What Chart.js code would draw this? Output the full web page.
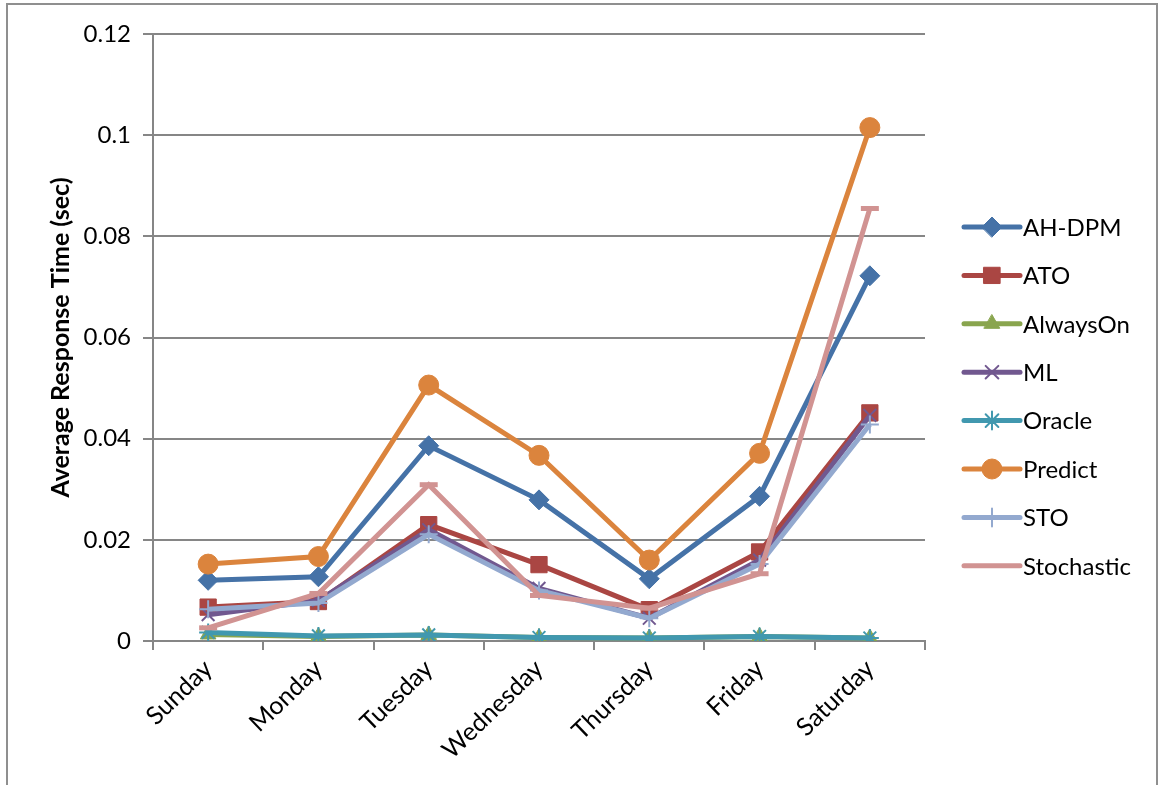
<!DOCTYPE html>
<html>
<head>
<meta charset="utf-8">
<script src="https://cdn.jsdelivr.net/npm/chart.js@4/dist/chart.umd.min.js"></script>
<style>
  html, body { margin: 0; padding: 0; background: #fff; }
  #wrap { width: 1159px; height: 785px; position: relative; }
</style>
</head>
<body>
<div id="wrap"><canvas id="respChart" width="1159" height="785"></canvas></div>
<script>
const days = ['Sunday', 'Monday', 'Tuesday', 'Wednesday', 'Thursday', 'Friday', 'Saturday'];
const yTicks = [0, 0.02, 0.04, 0.06, 0.08, 0.1, 0.12];

const ahDpm      = [0.0120, 0.0127, 0.0386, 0.0279, 0.0123, 0.0286, 0.0722];
const ato        = [0.0067, 0.0078, 0.0230, 0.0151, 0.0062, 0.0176, 0.0451];
const alwaysOn   = [0.0013, 0.0009, 0.0012, 0.0007, 0.0006, 0.0009, 0.0006];
const ml         = [0.0052, 0.0080, 0.0220, 0.0104, 0.0045, 0.0160, 0.0446];
const oracle     = [0.0017, 0.0010, 0.0012, 0.0007, 0.0006, 0.0009, 0.0006];
const predict    = [0.0152, 0.0167, 0.0506, 0.0367, 0.0160, 0.0371, 0.1015];
const sto        = [0.0063, 0.0075, 0.0211, 0.0100, 0.0045, 0.0152, 0.0428];
const stochastic = [0.0026, 0.0094, 0.0309, 0.0090, 0.0065, 0.0133, 0.0855];

const FONT = 'Lato, "Open Sans", sans-serif';

const series = [
    { label: 'AH-DPM',     data: ahDpm,      color: '#4572a7', style: 'rectRot',  radius: 10 },
    { label: 'ATO',        data: ato,        color: '#aa4643', style: 'rect',     radius: 11.5 },
    { label: 'AlwaysOn',   data: alwaysOn,   color: '#89a54e', style: 'triangle', radius: 9 },
    { label: 'ML',         data: ml,         color: '#71588f', style: 'crossRot', radius: 9, bw: 2 },
    { label: 'Oracle',     data: oracle,     color: '#4198af', style: 'star',     radius: 9, bw: 2 },
    { label: 'Predict',    data: predict,    color: '#db843d', style: 'circle',   radius: 10 },
    { label: 'STO',        data: sto,        color: '#93a9cf', style: 'cross',    radius: 9, bw: 2 },
    { label: 'Stochastic', data: stochastic, color: '#d19392', style: 'line',     radius: 9, bw: 5 }
];

// legend on the right: a short line with the marker in the middle
const sideLegend = {
    id: 'sideLegend',
    afterDraw(chart) {
        const c = chart.ctx;
        const x0 = 964, x1 = 1020, top = 227, gap = 48.4;
        c.save();
        series.forEach((s, i) => {
            const y = top + i * gap;
            c.strokeStyle = s.color;
            c.lineWidth = 5;
            c.lineCap = 'round';
            c.beginPath();
            c.moveTo(x0, y);
            c.lineTo(x1, y);
            c.stroke();
            if (s.style !== 'line') {
                c.fillStyle = s.color;
                c.lineWidth = s.bw || 1;
                Chart.helpers.drawPoint(c, { pointStyle: s.style, radius: s.radius, borderWidth: s.bw || 1 }, (x0 + x1) / 2, y);
            }
            c.fillStyle = '#000';
            c.font = '24px ' + FONT;
            c.textBaseline = 'middle';
            c.textAlign = 'left';
            c.fillText(s.label, 1023, y + 1);
        });
        c.restore();
    }
};

// thin frame round the whole figure
const frame = {
    id: 'frame',
    beforeDraw(chart) {
        const c = chart.ctx;
        c.save();
        c.strokeStyle = '#8f8f8f';
        c.lineWidth = 2;
        c.strokeRect(7, 4, 1150, 800);
        c.restore();
    }
};

const ctx = document.getElementById('respChart');

new Chart(ctx, {
    type: 'line',
    data: {
        labels: days,
        datasets: series.map((s, i) => ({
            label: s.label,
            data: s.data,
            borderColor: s.color,
            backgroundColor: s.color,
            borderWidth: 5,
            pointStyle: s.style,
            pointRadius: s.radius,
            pointHoverRadius: s.radius,
            pointBorderWidth: s.bw || 1,
            pointBorderColor: s.color,
            pointBackgroundColor: s.color,
            tension: 0,
            fill: false,
            order: -i
        }))
    },
    options: {
        responsive: false,
        animation: false,
        layout: {
            padding: { left: 0, top: 34, right: 234, bottom: 0 }
        },
        plugins: {
            legend: { display: false },
            tooltip: { enabled: false }
        },
        scales: {
            x: {
                offset: true,
                grid: {
                    offset: true,
                    drawOnChartArea: false,
                    color: '#868686',
                    lineWidth: 2,
                    tickLength: 9
                },
                border: { color: '#868686', width: 2 },
                ticks: {
                    color: '#000',
                    font: { family: FONT, size: 25 },
                    minRotation: 44,
                    maxRotation: 44,
                    autoSkip: false,
                    padding: 4
                },
                afterFit(scale) { scale.height = 144; }
            },
            y: {
                min: 0,
                max: 0.12,
                afterBuildTicks(scale) { scale.ticks = yTicks.map(v => ({ value: v })); },
                grid: {
                    color: '#868686',
                    lineWidth: 2,
                    tickLength: 10
                },
                border: { color: '#868686', width: 2 },
                ticks: {
                    color: '#000',
                    font: { family: FONT, size: 24 },
                    padding: 12,
                    callback: v => String(+v.toFixed(2))
                },
                title: {
                    display: true,
                    text: 'Average Response Time (sec)',
                    color: '#000',
                    font: { family: FONT, size: 25, weight: 'bold' },
                    padding: { top: 46, bottom: 0 }
                },
                afterFit(scale) { scale.width = 153; }
            }
        }
    },
    plugins: [frame, sideLegend]
});
</script>
</body>
</html>
